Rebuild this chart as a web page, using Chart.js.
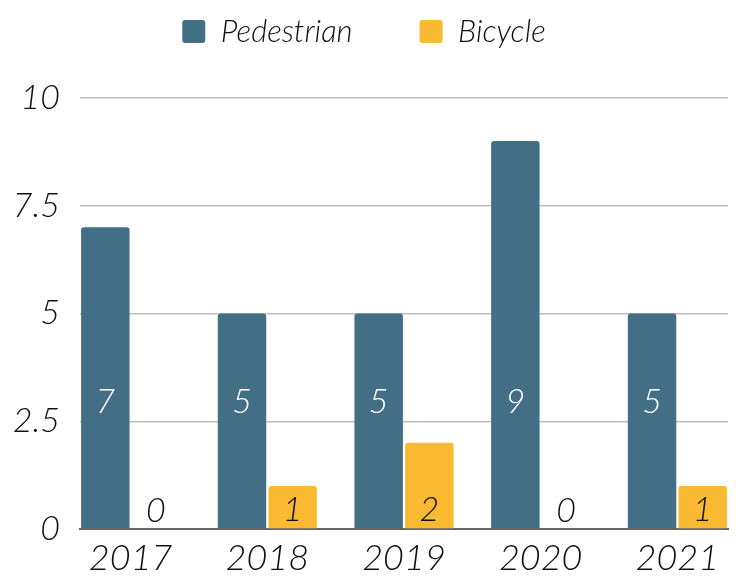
<!DOCTYPE html>
<html>
<head>
<meta charset="utf-8">
<script src="https://cdn.jsdelivr.net/npm/chart.js@4/dist/chart.umd.min.js"></script>
<style>
  html, body { margin: 0; padding: 0; background: #fff; }
  #wrap { width: 736px; height: 582px; }
</style>
</head>
<body>
<div id="wrap"><canvas id="myChart"></canvas></div>
<script>
"use strict";

// data
const years = ['2017', '2018', '2019', '2020', '2021'];
const pedestrian = [7, 5, 5, 9, 5];
const bicycle = [0, 1, 2, 0, 1];
const yTicks = [0, 2.5, 5, 7.5, 10];

const FONT = "'Lato', 'DejaVu Sans', sans-serif";

// labels inside the bars (white on blue, black on yellow)
const barLabels = {
  id: 'barLabels',
  afterDatasetsDraw(chart) {
    const ctx = chart.ctx;
    ctx.save();
    ctx.font = 'italic 300 34px ' + FONT;
    ctx.textAlign = 'center';
    ctx.textBaseline = 'middle';
    chart.data.datasets.forEach(function(ds, i) {
      const meta = chart.getDatasetMeta(i);
      const up = i === 0 ? 126 : 18;   // distance above the baseline
      ctx.fillStyle = i === 0 ? '#ffffff' : '#111111';
      meta.data.forEach(function(bar, j) {
        ctx.fillText(String(ds.data[j].y), bar.x, bar.base - up);
      });
    });
    ctx.restore();
  }
};

// legend needs wide gaps between items but little height
const legendHeight = {
  id: 'legendHeight',
  beforeLayout(chart) {
    const lg = chart.legend;
    if (lg && !lg._fitPatched) {
      const fit = lg.fit;
      lg.fit = function() {
        fit.call(this);
        this.height = 149;
      };
      lg._fitPatched = true;
    }
  }
};

const ctx = document.getElementById('myChart').getContext('2d');
new Chart(ctx, {
  type: 'bar',
  data: {
    datasets: [{
      label: 'Pedestrian',
      data: pedestrian.map(function(v, i) { return { x: i, y: v }; }),
      backgroundColor: '#426E86',
      borderRadius: { topLeft: 3, topRight: 3 },
      borderSkipped: 'bottom'
    }, {
      label: 'Bicycle',
      data: bicycle.map(function(v, i) { return { x: i, y: v }; }),
      backgroundColor: '#F9BA32',
      borderRadius: { topLeft: 3, topRight: 3 },
      borderSkipped: 'bottom'
    }]
  },
  options: {
    responsive: true,
    maintainAspectRatio: false,
    animation: false,
    categoryPercentage: 0.741,
    barPercentage: 0.957,
    layout: { padding: { top: -51, right: 8, left: 0, bottom: 0 } },
    plugins: {
      tooltip: { enabled: false },
      legend: {
        display: true,
        position: 'top',
        labels: {
          boxWidth: 23,
          boxHeight: 23,
          useBorderRadius: true,
          borderRadius: 3,
          padding: 67,
          color: '#111',
          font: { family: FONT, size: 31, style: 'italic', weight: 300 }
        }
      }
    },
    scales: {
      x: {
        type: 'linear',
        offset: false,
        min: -0.3704,
        max: 4.3704,
        afterBuildTicks: function(s) {
          s.ticks = years.map(function(y, i) { return { value: i }; });
        },
        afterFit: function(s) { s.height = 53; },
        grid: { display: false, drawTicks: false, offset: false },
        border: { display: true, color: '#666', width: 2 },
        ticks: {
          color: '#111',
          padding: 8,
          maxRotation: 0,
          font: { family: FONT, size: 36, style: 'italic', weight: 300 },
          callback: function(v) { return years[v]; }
        }
      },
      y: {
        min: 0,
        max: 10,
        afterBuildTicks: function(s) {
          s.ticks = yTicks.map(function(v) { return { value: v }; });
        },
        afterFit: function(s) { s.width = 80; },
        grid: { color: '#bdbdbd', lineWidth: 1.5, drawTicks: false },
        border: { display: false },
        ticks: {
          color: '#111',
          padding: 20,
          font: { family: FONT, size: 34, style: 'italic', weight: 300 }
        }
      }
    }
  },
  plugins: [barLabels, legendHeight]
});
</script>
</body>
</html>
